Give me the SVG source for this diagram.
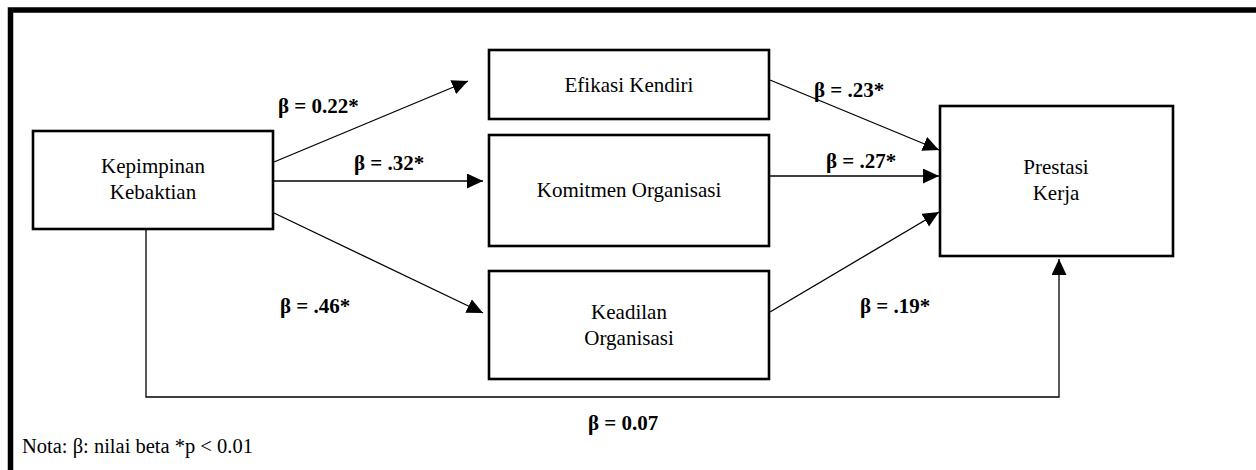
<svg xmlns="http://www.w3.org/2000/svg" width="1256" height="470" viewBox="0 0 1256 470">
<style>
.box{fill:#fff;stroke:#000;stroke-width:2.6}
.t{font-family:"Liberation Serif","Times New Roman",serif;font-size:21px;fill:#000;text-anchor:middle}
.b{font-family:"Liberation Serif","Times New Roman",serif;font-size:21px;font-weight:bold;fill:#000}
.c{fill:none;stroke:#000;stroke-width:1.3}
</style>
<defs>
<marker id="ah" markerUnits="userSpaceOnUse" markerWidth="17" markerHeight="16" refX="16" refY="7.5" orient="auto">
<path d="M0,0 L16,7.5 L0,15 z" fill="#000"/>
</marker>
</defs>
<rect width="1256" height="470" fill="#fff"/>
<path d="M10.5 470 V10 H1256" fill="none" stroke="#000" stroke-width="5.5"/>
<g id="connectors">
<line class="c" x1="274" y1="162" x2="468" y2="81" marker-end="url(#ah)"/>
<line class="c" x1="274" y1="181" x2="483" y2="181" marker-end="url(#ah)"/>
<line class="c" x1="274" y1="213" x2="483" y2="313" marker-end="url(#ah)"/>
<line class="c" x1="770" y1="80" x2="939" y2="150" marker-end="url(#ah)"/>
<line class="c" x1="770" y1="176" x2="939" y2="176" marker-end="url(#ah)"/>
<line class="c" x1="770" y1="312" x2="939" y2="212" marker-end="url(#ah)"/>
<path class="c" d="M146 222 V397 H1059 V259" marker-end="url(#ah)"/>
</g>
<g id="node-kepimpinan">
<rect class="box" x="33" y="131" width="240" height="98"/>
<text class="t" x="153" y="173">Kepimpinan</text>
<text class="t" x="153" y="199">Kebaktian</text>
</g>
<g id="node-efikasi">
<rect class="box" x="489" y="50" width="280" height="69"/>
<text class="t" x="629" y="92">Efikasi Kendiri</text>
</g>
<g id="node-komitmen">
<rect class="box" x="489" y="135" width="280" height="111"/>
<text class="t" x="629" y="197">Komitmen Organisasi</text>
</g>
<g id="node-keadilan">
<rect class="box" x="489" y="271" width="280" height="108"/>
<text class="t" x="629" y="319">Keadilan</text>
<text class="t" x="629" y="345">Organisasi</text>
</g>
<g id="node-prestasi">
<rect class="box" x="940" y="106" width="233" height="150"/>
<text class="t" x="1056" y="174">Prestasi</text>
<text class="t" x="1056" y="200">Kerja</text>
</g>
<g id="labels">
<text class="b" x="278" y="113">β = 0.22*</text>
<text class="b" x="354" y="170">β = .32*</text>
<text class="b" x="280" y="313">β = .46*</text>
<text class="b" x="814" y="97">β = .23*</text>
<text class="b" x="826" y="168">β = .27*</text>
<text class="b" x="860" y="313">β = .19*</text>
<text class="b" x="588" y="430">β = 0.07</text>
</g>
<text x="22" y="453" font-family="Liberation Serif, Times New Roman, serif" font-size="20.5" fill="#000">Nota: β: nilai beta *p &lt; 0.01</text>
</svg>
